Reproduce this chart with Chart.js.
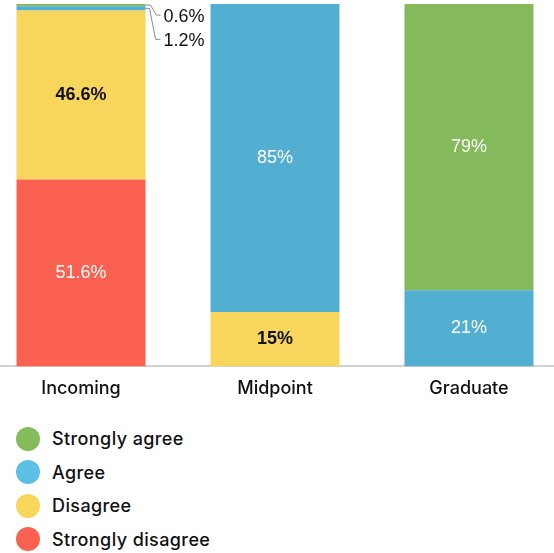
<!DOCTYPE html>
<html>
<head>
<meta charset="utf-8">
<script src="https://cdn.jsdelivr.net/npm/chart.js@4"></script>
<style>
  html, body { margin: 0; padding: 0; background: #fff; overflow: hidden; }
  #wrap { position: relative; width: 582px; height: 404px; margin-left: -16px; }
  #legend { position: absolute; left: 16px; top: 422px; font-family: Inter, sans-serif; font-size: 18px; font-weight: 500; letter-spacing: 0.4px; color: #111; }
  #legend div { display: flex; align-items: center; height: 33.5px; }
  #legend span.dot { width: 24px; height: 24px; border-radius: 50%; margin-right: 12px; }
</style>
</head>
<body>
<div id="wrap"><canvas id="chart"></canvas></div>
<div id="legend"></div>
<script>
const categories = ['Incoming', 'Midpoint', 'Graduate'];
const stronglyDisagree = [51.6, 0, 0];
const disagree = [46.6, 15, 0];
const agree = [1.2, 85, 21];
const stronglyAgree = [0.6, 0, 79];

// bottom to top
const series = [
    { label: 'Strongly disagree', data: stronglyDisagree, color: '#fa6150', dot: '#fa6150', text: '#fff' },
    { label: 'Disagree', data: disagree, color: '#f8d65c', dot: '#f8d65c', text: '#111' },
    { label: 'Agree', data: agree, color: '#53afd1', dot: '#5bbfe6', text: '#fff' },
    { label: 'Strongly agree', data: stronglyAgree, color: '#84ba5b', dot: '#84bb5b', text: '#fff' }
];

function fmt(v) { return v + '%'; }

const barLabels = {
    id: 'barLabels',
    afterDatasetsDraw(chart) {
        const ctx = chart.ctx;
        ctx.save();
        ctx.textAlign = 'center';
        ctx.textBaseline = 'middle';
        chart.data.datasets.forEach((ds, i) => {
            const meta = chart.getDatasetMeta(i);
            meta.data.forEach((bar, j) => {
                const v = ds.data[j];
                // thin slices get a leader line instead
                if (!v || v < 5) return;
                const s = series[i];
                ctx.fillStyle = s.text;
                ctx.font = (s.text === '#fff' ? '' : 'bold ') + '18px "Liberation Sans", Arial, sans-serif';
                ctx.fillText(fmt(v), bar.x, (bar.y + bar.base) / 2);
            });
        });

        // leader lines for the thin slices on Incoming
        const green = chart.getDatasetMeta(3).data[0];
        const blue = chart.getDatasetMeta(2).data[0];
        const right = green.x + green.width / 2;
        ctx.strokeStyle = '#8a8a8a';
        ctx.lineWidth = 1;
        ctx.fillStyle = '#111';
        ctx.font = '18px "Liberation Sans", Arial, sans-serif';
        ctx.textAlign = 'left';

        const gy = (green.y + green.base) / 2;
        ctx.beginPath();
        ctx.moveTo(right, gy);
        ctx.lineTo(right + 5, gy);
        ctx.lineTo(right + 11, gy + 10);
        ctx.lineTo(right + 15, gy + 10);
        ctx.stroke();
        ctx.fillText(fmt(stronglyAgree[0]), right + 18, gy + 12);

        const by = (blue.y + blue.base) / 2;
        ctx.beginPath();
        ctx.moveTo(right, by);
        ctx.lineTo(right + 4, by);
        ctx.lineTo(right + 10, by + 31);
        ctx.lineTo(right + 15, by + 31);
        ctx.stroke();
        ctx.fillText(fmt(agree[0]), right + 18, by + 33);
        ctx.restore();
    }
};

const myChart = new Chart(document.getElementById('chart'), {
    type: 'bar',
    data: {
        labels: categories,
        datasets: series.map(s => ({
            label: s.label,
            data: s.data,
            backgroundColor: s.color,
            borderWidth: 0,
            barPercentage: 1,
            categoryPercentage: 0.665
        }))
    },
    options: {
        responsive: true,
        maintainAspectRatio: false,
        animation: false,
        layout: { padding: { left: 0, right: 0, top: 4, bottom: 2 } },
        plugins: { legend: { display: false }, tooltip: { enabled: false } },
        scales: {
            x: {
                stacked: true,
                grid: { display: false },
                border: { display: true, color: '#d2d2d2', width: 2 },
                ticks: { color: '#111', padding: 3, font: { family: 'Inter', size: 18, weight: '500' } }
            },
            y: { stacked: true, display: false, min: 0, max: 100 }
        }
    },
    plugins: [barLabels]
});

// legend, top item first
const legend = document.getElementById('legend');
series.slice().reverse().forEach(s => {
    const row = document.createElement('div');
    row.innerHTML = '<span class="dot" style="background:' + s.dot + '"></span>' + s.label;
    legend.appendChild(row);
});
</script>
</body>
</html>
